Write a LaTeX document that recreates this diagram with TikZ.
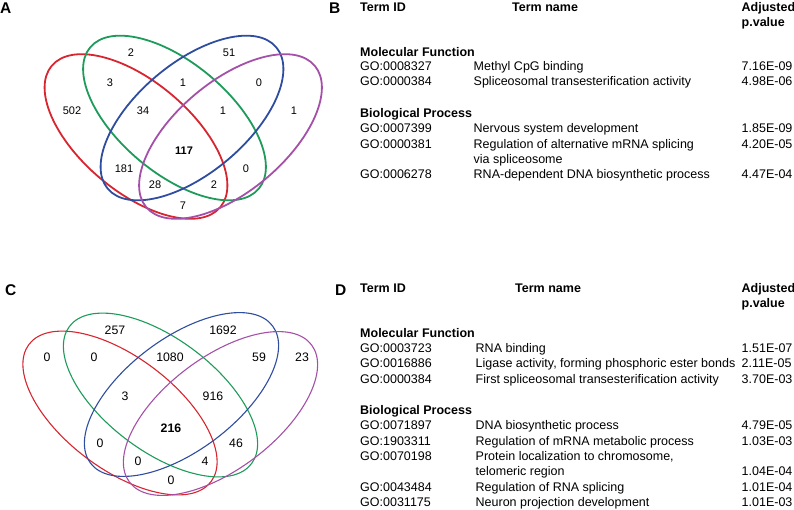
\documentclass[tikz,border=0pt]{standalone}
\usepackage{fontspec}
\setmainfont{Liberation Sans}
\usetikzlibrary{positioning}
\definecolor{vred}{HTML}{D7262F}
\definecolor{vgreen}{HTML}{1E9A5A}
\definecolor{vblue}{HTML}{2F4DA0}
\definecolor{vpurple}{HTML}{A450A8}
\tikzset{
  every picture/.style={x=1pt, y=-1pt},
  setA/.style={draw=#1, line width=1.8pt},
  setC/.style={draw=#1, line width=1.1pt},
  num/.style={font=\fontsize{11}{13}\selectfont, inner sep=0pt},
  numC/.style={font=\fontsize{12.3}{14}\selectfont, inner sep=0pt},
  panel/.style={font=\fontsize{15.5}{18}\selectfont\bfseries, inner sep=0pt, anchor=base west},
  cell/.style={font=\fontsize{12.5}{15}\selectfont, inner sep=0pt, anchor=base west},
  hdr/.style={cell, font=\fontsize{12.5}{15}\selectfont\bfseries},
}

\begin{document}
\begin{tikzpicture}
  \useasboundingbox (0,0) rectangle (794,509);
  % panel A
  \node[panel] (pA) at (0,13) {A};
  \draw[setA=vred, rotate around={-40:(136,136.5)}] (136,136.5) ellipse [x radius=110, y radius=55];
  \draw[setA=vgreen, rotate around={-40:(174.5,118)}] (174.5,118) ellipse [x radius=110, y radius=55];
  \draw[setA=vblue, rotate around={40:(192,118)}] (192,118) ellipse [x radius=110, y radius=55];
  \draw[setA=vpurple, rotate around={40:(230.5,136.5)}] (230.5,136.5) ellipse [x radius=110, y radius=55];
  \node[num] (a2) at (131,53) {2}; \node[num] (a51) at (229,53) {51};
  \node[num] (a3) at (110,83) {3}; \node[num] (a1) at (183,83) {1}; \node[num] (a0) at (259,83) {0};
  \node[num] (a502) at (72,111) {502}; \node[num] (a34) at (143,111) {34};
  \node[num] (a1b) at (223,111) {1}; \node[num] (a1c) at (294,111) {1};
  \node[num, font=\fontsize{11}{13}\selectfont\bfseries] (a117) at (184,151) {117};
  \node[num] (a181) at (124,169) {181}; \node[num] (a0b) at (246,169) {0};
  \node[num] (a28) at (155,185) {28}; \node[num] (a2b) at (214,185) {2};
  \node[num] (a7) at (183,206) {7};
  % panel B
  \node[panel] (pB) at (329,13) {B};
  \node[hdr] (bid) at (360,11) {Term ID};
  \node[hdr] (bname) at (512,11) {Term name};
  \node[hdr, align=left] (bp) at (741.5,11) {Adjusted};
  \node[hdr] (bp2) at (741.5,26) {p.value};
  \node[hdr] (bmf) at (360,56) {Molecular Function};
  \node[cell] at (360,70) {GO:0008327}; \node[cell] at (473.5,70) {Methyl CpG binding}; \node[cell] at (741.5,70) {7.16E-09};
  \node[cell] at (360,85.5) {GO:0000384}; \node[cell] at (473.5,85.5) {Spliceosomal transesterification activity}; \node[cell] at (741.5,85.5) {4.98E-06};
  \node[hdr] (bbp) at (360,117) {Biological Process};
  \node[cell] at (360,132) {GO:0007399}; \node[cell] at (473.5,132) {Nervous system development}; \node[cell] at (741.5,132) {1.85E-09};
  \node[cell] at (360,148) {GO:0000381}; \node[cell] at (473.5,148) {Regulation of alternative mRNA splicing}; \node[cell] at (741.5,148) {4.20E-05};
  \node[cell] at (473.5,163) {via spliceosome};
  \node[cell] at (360,178) {GO:0006278}; \node[cell] at (473.5,178) {RNA-dependent DNA biosynthetic process}; \node[cell] at (741.5,178) {4.47E-04};
  % panel C
  \node[panel] (pC) at (5,295) {C};
  \draw[setC=vred, rotate around={-37:(120,413)}] (120,413) ellipse [x radius=114, y radius=56];
  \draw[setC=vgreen, rotate around={-37:(160.5,395)}] (160.5,395) ellipse [x radius=114, y radius=56];
  \draw[setC=vblue, rotate around={37:(181.5,394.5)}] (181.5,394.5) ellipse [x radius=114, y radius=56];
  \draw[setC=vpurple, rotate around={37:(220.5,413.5)}] (220.5,413.5) ellipse [x radius=114, y radius=56];
  \node[numC] (c257) at (115,330) {257}; \node[numC] (c1692) at (223,330) {1692};
  \node[numC] (c0) at (47,357) {0}; \node[numC] (c0b) at (94,357) {0}; \node[numC] (c1080) at (170,357) {1080};
  \node[numC] (c59) at (259,357) {59}; \node[numC] (c23) at (302,357) {23};
  \node[numC] (c3) at (125,396) {3}; \node[numC] (c916) at (213,396) {916};
  \node[numC, font=\fontsize{12.3}{14}\selectfont\bfseries] (c216) at (171,428) {216};
  \node[numC] (c0c) at (100,443) {0}; \node[numC] (c46) at (236,443) {46};
  \node[numC] (c0d) at (138,461) {0}; \node[numC] (c4) at (205,461) {4};
  \node[numC] (c0e) at (171,480) {0};
  % panel D
  \node[panel] (pD) at (335,295) {D};
  \node[hdr] (did) at (360,292.5) {Term ID};
  \node[hdr] (dname) at (515,292.5) {Term name};
  \node[hdr] (dp) at (741.5,292.5) {Adjusted};
  \node[hdr] (dp2) at (741.5,307.5) {p.value};
  \node[hdr] (dmf) at (360,337.5) {Molecular Function};
  \node[cell] at (360,352.5) {GO:0003723}; \node[cell] at (475.5,352.5) {RNA binding}; \node[cell] at (741.5,352.5) {1.51E-07};
  \node[cell] at (360,367.5) {GO:0016886}; \node[cell] at (475.5,367.5) {Ligase activity, forming phosphoric ester bonds}; \node[cell] at (741.5,367.5) {2.11E-05};
  \node[cell] at (360,383.5) {GO:0000384}; \node[cell] at (475.5,383.5) {First spliceosomal transesterification activity}; \node[cell] at (741.5,383.5) {3.70E-03};
  \node[hdr] (dbp) at (360,414.5) {Biological Process};
  \node[cell] at (360,429.5) {GO:0071897}; \node[cell] at (475.5,429.5) {DNA biosynthetic process}; \node[cell] at (741.5,429.5) {4.79E-05};
  \node[cell] at (360,445.5) {GO:1903311}; \node[cell] at (475.5,445.5) {Regulation of mRNA metabolic process}; \node[cell] at (741.5,445.5) {1.03E-03};
  \node[cell] at (360,460.5) {GO:0070198}; \node[cell] at (475.5,460.5) {Protein localization to chromosome,};
  \node[cell] at (475.5,475.5) {telomeric region}; \node[cell] at (741.5,475.5) {1.04E-04};
  \node[cell] at (360,491.5) {GO:0043484}; \node[cell] at (475.5,491.5) {Regulation of RNA splicing}; \node[cell] at (741.5,491.5) {1.01E-04};
  \node[cell] at (360,506.5) {GO:0031175}; \node[cell] at (475.5,506.5) {Neuron projection development}; \node[cell] at (741.5,506.5) {1.01E-03};
\end{tikzpicture}
\end{document}
